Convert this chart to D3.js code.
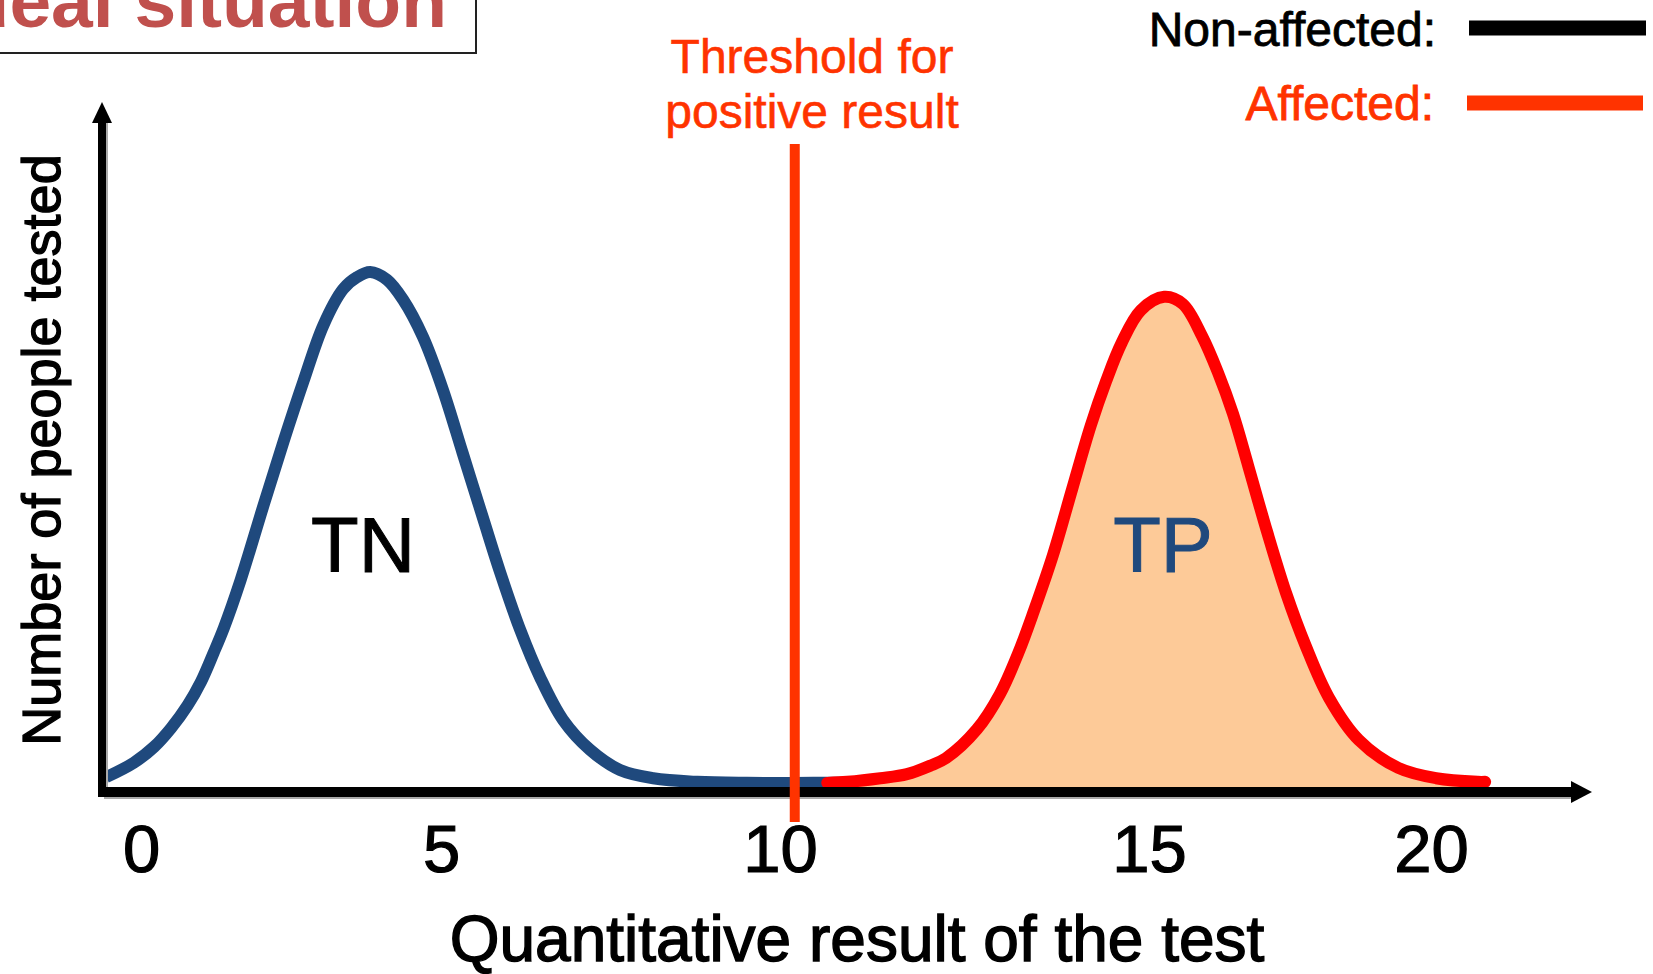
<!DOCTYPE html>
<html>
<head>
<meta charset="utf-8">
<script src="https://cdn.jsdelivr.net/npm/d3@7"></script>
<style>
  html, body { margin: 0; padding: 0; background: #fff; overflow: hidden; }
  svg { display: block; font-family: "Liberation Sans", Arial, Helvetica, sans-serif; }
</style>
</head>
<body>
<svg id="chart" width="1653" height="974"></svg>
<script>
// ---------------- data ----------------
const xTickValues = [0, 5, 10, 15, 20];
const xTickLabels = ["0", "5", "10", "15", "20"];

// Non-affected population (blue curve): test result vs number of people (arbitrary units)
const nonAffectedX = [-0.58, -0.12, 0.22, 0.5, 0.78, 1.0, 1.21, 1.38, 1.66, 2.04, 2.38, 2.71, 3.04, 3.37, 3.6, 3.82, 4.1, 4.37, 4.7, 5.03, 5.32, 5.62, 5.87, 6.17, 6.46, 6.8, 7.2, 7.64, 8.13, 8.78, 9.51, 10.45, 10.95];
const nonAffectedY = [1.9, 4.7, 7.8, 11.4, 15.9, 20.4, 26.0, 30.8, 40.1, 54.5, 67.1, 78.7, 89.5, 96.5, 98.8, 99.8, 98.3, 94.4, 87.2, 76.9, 64.7, 52.1, 41.7, 30.4, 21.3, 13.0, 7.2, 3.3, 1.7, 1.0, 0.8, 0.8, 0.8];

// Affected population (red curve)
const affectedX = [10.64, 10.91, 11.36, 11.72, 12.03, 12.25, 12.67, 12.98, 13.23, 13.44, 13.7, 13.96, 14.21, 14.42, 14.63, 14.89, 15.27, 15.6, 15.94, 16.22, 16.49, 16.76, 17.09, 17.43, 17.78, 18.19, 18.72, 19.42, 20.09, 20.83, 20.96];
const affectedY = [0.8, 1.0, 1.7, 2.5, 4.1, 5.6, 11.2, 18.0, 26.0, 34.1, 45.0, 57.8, 70.0, 78.7, 86.1, 92.4, 95.0, 93.6, 87.4, 80.4, 72.3, 62.2, 49.6, 37.6, 27.3, 17.3, 9.1, 3.7, 1.7, 1.0, 1.0];

const thresholdValue = 10.2;

const titleText = "Ideal situation";
const thresholdLabel = ["Threshold for", "positive result"];
const legendLabels = ["Non-affected:", "Affected:"];
const regionLabels = ["TN", "TP"];
const xAxisTitle = "Quantitative result of the test";
const yAxisTitle = "Number of people tested";

// ---------------- drawing ----------------
const svg = d3.select("#chart");
const BLUE = "#1F497D", RED = "#FF0000", ORANGE = "#FF3300", FILL = "#FDCA98";

const x = d3.scaleLinear().domain(xTickValues).range([141, 441, 780, 1149, 1431]);
const y = d3.scaleLinear().domain([0, 100]).range([787, 271]);

const blueData = nonAffectedX.map((v, i) => [v, nonAffectedY[i]]);
const redData = affectedX.map((v, i) => [v, affectedY[i]]);

const curve = d3.curveCatmullRom.alpha(0.5);
const line = d3.line().x(d => x(d[0])).y(d => y(d[1])).curve(curve);
const area = d3.area().x(d => x(d[0])).y0(y(0)).y1(d => y(d[1])).curve(curve);

// helper: slightly heavier text like the original raster
function heavy(sel, color, w) {
  return sel.attr("fill", color).attr("stroke", color).attr("stroke-width", w).attr("paint-order", "stroke");
}

// Title box (partly off-canvas, as in the original)
svg.append("rect").attr("x", -10).attr("y", -10).attr("width", 486).attr("height", 63)
  .attr("fill", "#fff").attr("stroke", "#222").attr("stroke-width", 2);
svg.append("text").attr("x", 447).attr("y", 27).attr("text-anchor", "end")
  .attr("font-size", 75).attr("font-weight", "bold").attr("fill", "#C0504D").text(titleText);

// Filled affected area
svg.append("path").datum(redData).attr("d", area).attr("fill", FILL);

// Curves
svg.append("path").datum(blueData).attr("d", line).attr("fill", "none")
  .attr("stroke", BLUE).attr("stroke-width", 12).attr("stroke-linejoin", "round");
svg.append("path").datum(redData).attr("d", line).attr("fill", "none")
  .attr("stroke", RED).attr("stroke-width", 12).attr("stroke-linejoin", "round").attr("stroke-linecap", "round");

// Axes lines with arrows
const axisG = svg.append("g");
const x0 = 102, yAx = 792;
axisG.append("line").attr("x1", x0 + 2).attr("x2", 1575).attr("y1", yAx + 2).attr("y2", yAx + 2).attr("stroke", "#aaa").attr("stroke-width", 10);
axisG.append("line").attr("x1", x0 + 2).attr("x2", x0 + 2).attr("y1", 120).attr("y2", yAx + 2).attr("stroke", "#aaa").attr("stroke-width", 8);
axisG.append("line").attr("x1", x0 - 4).attr("x2", 1575).attr("y1", yAx).attr("y2", yAx).attr("stroke", "#000").attr("stroke-width", 10);
axisG.append("line").attr("x1", x0).attr("x2", x0).attr("y1", 120).attr("y2", yAx + 5).attr("stroke", "#000").attr("stroke-width", 8);
axisG.append("path").attr("d", `M1592,${yAx} L1571,${yAx - 11} L1571,${yAx + 11} Z`).attr("fill", "#000");
axisG.append("path").attr("d", `M${x0},102 L${x0 - 10},123 L${x0 + 10},123 Z`).attr("fill", "#000");

// Tick labels through d3 axis
const xAxis = d3.axisBottom(x).tickValues(xTickValues).tickFormat((d, i) => xTickLabels[i]).tickSize(0).tickPadding(32);
const gx = svg.append("g").attr("transform", `translate(0,${yAx})`).call(xAxis);
gx.select(".domain").remove();
heavy(gx.selectAll("text").attr("font-size", 67)
  .attr("font-family", "'Liberation Sans', Arial, sans-serif"), "#000", 1.2);

// Threshold line
svg.append("line").attr("x1", x(thresholdValue)).attr("x2", x(thresholdValue))
  .attr("y1", 144).attr("y2", 822).attr("stroke", ORANGE).attr("stroke-width", 10);
const thr = heavy(svg.append("text").attr("text-anchor", "middle").attr("font-size", 48), ORANGE, 0.6);
thresholdLabel.forEach((t, i) => thr.append("tspan").attr("x", 812).attr("y", 73 + i * 55).text(t));

// Region labels
const regionX = [363, 1163], regionColor = ["#000", BLUE];
svg.selectAll(".region").data(regionLabels).enter().append("text")
  .attr("class", "region")
  .attr("x", (d, i) => regionX[i])
  .attr("y", 572)
  .attr("text-anchor", "middle").attr("font-size", 78)
  .attr("fill", (d, i) => regionColor[i])
  .attr("stroke", (d, i) => regionColor[i]).attr("stroke-width", 1).attr("paint-order", "stroke")
  .text(d => d);

// Legend
const legColors = ["#000", ORANGE];
const legY = [46, 120];
const legLineY = [28, 103];
legendLabels.forEach((t, i) => {
  heavy(svg.append("text").attr("x", 1436 - i * 2).attr("y", legY[i]).attr("text-anchor", "end")
    .attr("font-size", 48), legColors[i], 0.8).text(t);
  svg.append("line").attr("x1", 1469 - i * 2).attr("x2", 1646 - i * 3).attr("y1", legLineY[i]).attr("y2", legLineY[i])
    .attr("stroke", legColors[i]).attr("stroke-width", 15);
});

// Axis titles
heavy(svg.append("text").attr("x", 857).attr("y", 961).attr("text-anchor", "middle")
  .attr("font-size", 64), "#000", 1.4).text(xAxisTitle);
heavy(svg.append("text").attr("transform", "translate(60,450) rotate(-90)").attr("text-anchor", "middle")
  .attr("font-size", 54), "#000", 1.3).text(yAxisTitle);
</script>
</body>
</html>
